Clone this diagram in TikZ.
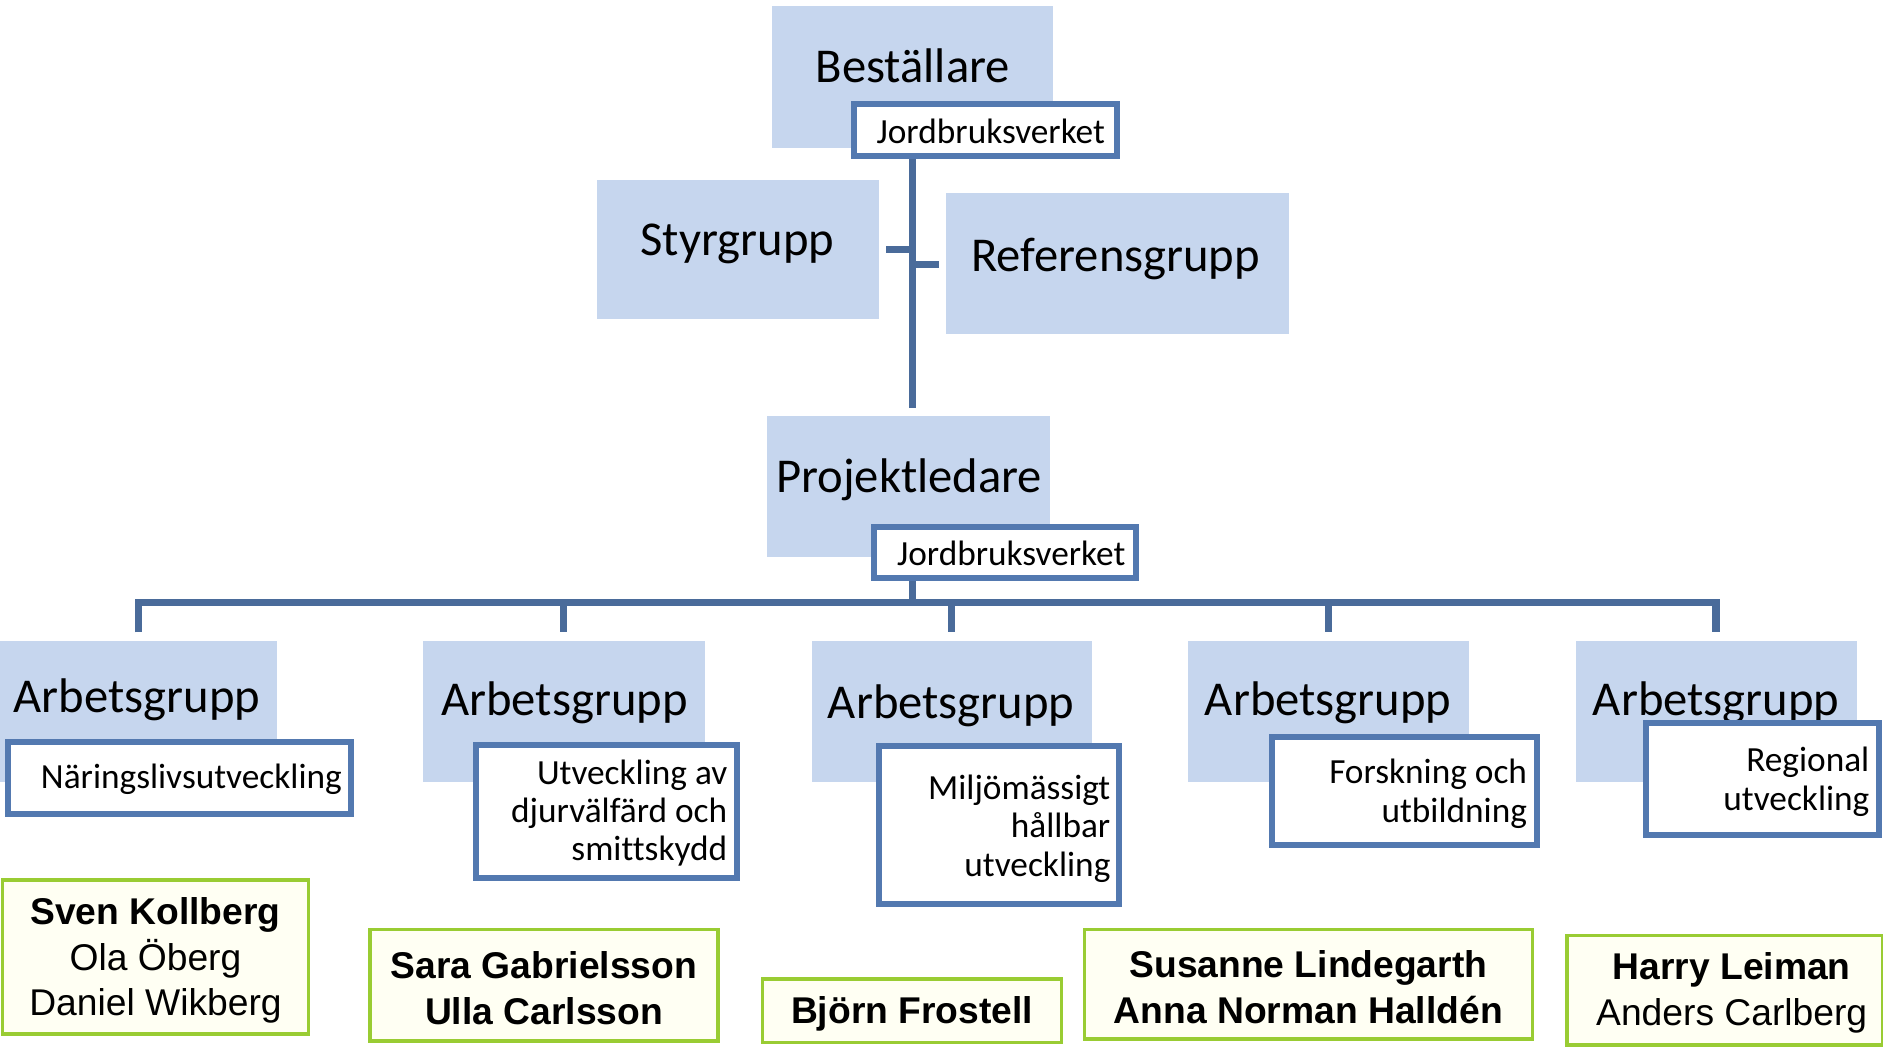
\documentclass[tikz,border=0pt]{standalone}
\usepackage{fontspec}
\setmainfont[Ligatures=NoCommon]{Carlito}
\newfontfamily\arialfont{Liberation Sans}
\definecolor{boxfill}{HTML}{C6D6EE}
\definecolor{linecol}{HTML}{4A6B9A}
\definecolor{subborder}{HTML}{5379B0}
\definecolor{greenborder}{HTML}{99CC33}
\definecolor{greenfill}{HTML}{FFFFF3}
\tikzset{
  sz/.style 2 args={minimum width=#1*0.5pt, minimum height=#2*0.5pt},
  bluebox/.style={rectangle, fill=boxfill, draw=none, inner sep=0pt},
  subbox/.style={rectangle, fill=white, draw=subborder, line width=2.5pt, inner sep=0pt},
  greenbox/.style={rectangle, fill=greenfill, draw=greenborder, line width=1.5pt, inner sep=0pt},
  nametext/.style={inner sep=0pt, align=center, font=\arialfont\fontsize{15.5}{19}\selectfont},
  bigtext/.style={anchor=base, inner sep=0pt, font=\fontsize{20.25}{24}\selectfont},
  smalltext/.style={inner sep=0pt, align=right, font=\fontsize{14.7}{16}\selectfont},
  conn/.style={draw=linecol, line width=3pt},
}
\begin{document}
\begin{tikzpicture}[x=0.5pt, y=-0.5pt]
\useasboundingbox (0,0) rectangle (1568,872);
% blue boxes
\node[bluebox, sz={234}{118}] (bst) at (760,64) {};
\node[bluebox, sz={235}{116}] (sty) at (614.5,208) {};
\node[bluebox, sz={285}{117}] (ref) at (930.5,219.5) {};
\node[bluebox, sz={235}{118}] (pl) at (756.5,405) {};
\node[bluebox, sz={231}{117}] (ag1) at (115.5,592.5) {};
\node[bluebox, sz={235}{117}] (ag2) at (469.5,592.5) {};
\node[bluebox, sz={233}{117}] (ag3) at (792.5,592.5) {};
\node[bluebox, sz={234}{117}] (ag4) at (1106,592.5) {};
\node[bluebox, sz={234}{117}] (ag5) at (1429,592.5) {};
% big texts
\node[bigtext] (tbst) at (760,69) {Beställare};
\node[bigtext] (tsty) at (614,213) {Styrgrupp};
\node[bigtext] (tref) at (929,226) {Referensgrupp};
\node[bigtext] (tpl) at (757,410) {Projektledare};
\node[bigtext] (tag1) at (114,593) {Arbetsgrupp};
\node[bigtext] (tag2) at (470,596) {Arbetsgrupp};
\node[bigtext] (tag3) at (792,598) {Arbetsgrupp};
\node[bigtext] (tag4) at (1106,596) {Arbetsgrupp};
\node[bigtext] (tag5) at (1429,596) {Arbetsgrupp};
% connectors
\coordinate (trunkend) at (760,340);
\coordinate (stubL) at (738,208);
\coordinate (stubLend) at (760,208);
\coordinate (stubR) at (760,220);
\coordinate (stubRend) at (782,220);
\coordinate (busmid) at (760,502);
\draw[conn] (bst.south |- 0,128) -- (trunkend);
\draw[conn] (stubL) -- (stubLend);
\draw[conn] (stubR) -- (stubRend);
\draw[conn] (bst.south |- 0,470) -- (busmid);
\draw[conn] ([yshift=3.5pt]ag1.north) -- (ag1.north |- busmid) -- (ag5.north |- busmid) -- ([yshift=3.5pt]ag5.north);
\draw[conn] (ag2.north |- busmid) -- ([yshift=3.5pt]ag2.north);
\draw[conn] (ag3.north |- busmid) -- ([yshift=3.5pt]ag3.north);
\draw[conn] (ag4.north |- busmid) -- ([yshift=3.5pt]ag4.north);
% Jordbruksverket boxes
\node[subbox, sz={219}{43}] (jb1) at (820.5,108.5) {};
\node[smalltext] (tjb1) at (825,109) {Jordbruksverket};
\node[subbox, sz={218}{42}] (jb2) at (837,460) {};
\node[smalltext] (tjb2) at (842,461) {Jordbruksverket};
% sub boxes
\node[subbox, sz={285}{60}] (sb1) at (149.5,648) {};
\node[smalltext, anchor=east] (tsb1) at (285,649) {Näringslivsutveckling};
\node[subbox, sz={218}{111}] (sb2) at (505,675.5) {};
\node[smalltext, anchor=east] (tsb2) at (606,677) {Utveckling av\\djurvälfärd och\\smittskydd};
\node[subbox, sz={200}{132}] (sb3) at (832,687) {};
\node[smalltext, anchor=east] (tsb3) at (925,690) {Miljömässigt\\hållbar\\utveckling};
\node[subbox, sz={221}{90}] (sb4) at (1169.5,659) {};
\node[smalltext, anchor=east] (tsb4) at (1272,661) {Forskning och\\utbildning};
\node[subbox, sz={194}{93}] (sb5) at (1468,648.5) {};
\node[smalltext, anchor=east] (tsb5) at (1557,651) {Regional\\utveckling};
% green name boxes
\node[greenbox, sz={255}{128}] (gb1) at (129.5,797) {};
\node[nametext] (tgb1) at (129.5,800) {\textbf{Sven Kollberg}\\Ola Öberg\\Daniel Wikberg};
\node[greenbox, sz={290}{93}] (gb2) at (453,820.5) {};
\node[nametext] (tgb2) at (453,823) {\textbf{Sara Gabrielsson}\\\textbf{Ulla Carlsson}};
\node[greenbox, sz={249}{53}] (gb3) at (759.5,841.5) {};
\node[nametext] (tgb3) at (759.5,844) {\textbf{Björn Frostell}};
\node[greenbox, sz={373}{91}] (gb4) at (1089.5,819.5) {};
\node[nametext] (tgb4) at (1089.5,822) {\textbf{Susanne Lindegarth}\\\textbf{Anna Norman Halldén}};
\node[greenbox, sz={263}{91}] (gb5) at (1436.5,824.5) {};
\node[nametext] (tgb5) at (1442,827) {\textbf{Harry Leiman}\\Anders Carlberg};
\end{tikzpicture}
\end{document}
